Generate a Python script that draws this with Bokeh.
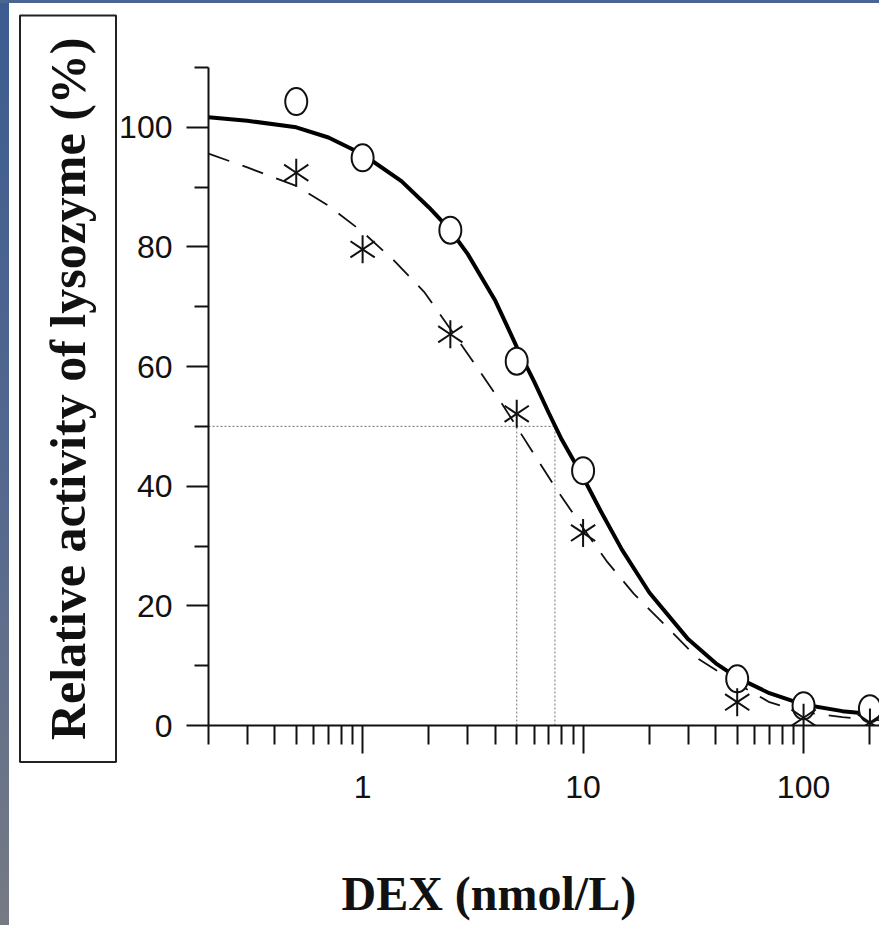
import math
from bokeh.plotting import figure
from bokeh.models import Range1d, FixedTicker, Title, Div
from bokeh.layouts import row, column
from bokeh.embed import file_html
from bokeh.resources import INLINE

# ---- data ----
dose = [0.5, 1, 2.5, 5, 10, 50, 100, 200]
control = [104.3, 94.9, 82.8, 60.9, 42.6, 7.8, 3.3, 2.8]
treated = [92.4, 79.6, 65.4, 52.1, 32.2, 3.9, 1.3, 0.5]

fit_control_x = [0.2, 0.3, 0.5, 0.7, 1, 1.5, 2, 2.5, 3, 4, 5, 6, 7, 8, 10, 12, 15, 20, 30, 40, 50, 70, 100, 150, 221]
fit_control_y = [101.7, 101.1, 100.0, 98.3, 95.5, 91.0, 86.6, 82.8, 78.8, 71.0, 63.3, 57.5, 52.2, 47.8, 41.5, 35.9, 29.4, 22.2, 14.4, 10.4, 8.0, 5.4, 3.5, 2.4, 1.8]

fit_treated_x = [0.2, 0.3, 0.5, 0.7, 1, 1.4, 1.9, 2.5, 3.4, 4.3, 5, 5.75, 7.45, 10, 12.9, 17, 25, 33.4, 50, 70, 100, 150, 221]
fit_treated_y = [95.6, 93.3, 90.2, 86.9, 82.5, 77.6, 72.5, 66.3, 59.2, 53.7, 49.9, 46.4, 39.9, 33.0, 27.3, 22.0, 15.8, 11.1, 7.0, 3.9, 2.2, 1.4, 0.9]

half_level = 50
ic50_control = 7.45
ic50_treated = 5.0

x_major = [1, 10, 100]
x_labels = ["1", "10", "100"]
y_major = [0, 20, 40, 60, 80, 100]

X_TITLE = "DEX (nmol/L)"
Y_TITLE = "Relative activity of lysozyme (%)"

# ---- figure ----
p = figure(width=870, height=922, x_axis_type="log",
           x_range=Range1d(0.2, 221), y_range=Range1d(0, 110),
           output_backend="svg", toolbar_location=None,
           min_border_left=199, min_border_top=64, min_border_right=0,
           min_border_bottom=200)
p.outline_line_color = None
p.xgrid.visible = False
p.ygrid.visible = False
p.background_fill_color = "white"
p.border_fill_color = "white"

minor_x = [m * 10 ** k for k in (-1, 0, 1, 2) for m in range(2, 10)]
p.xaxis.ticker = FixedTicker(ticks=x_major, minor_ticks=minor_x)
p.xaxis.major_label_overrides = {t: s for t, s in zip(x_major, x_labels)}
p.yaxis.ticker = FixedTicker(ticks=y_major, minor_ticks=[v + 10 for v in y_major])

tick_font = "'Liberation Sans Narrow', 'Liberation Sans', sans-serif"
for ax in (p.xaxis, p.yaxis):
    ax.axis_line_width = 2
    ax.axis_line_color = "#111111"
    ax.major_tick_line_width = 2
    ax.minor_tick_line_width = 2
    ax.major_tick_line_color = "#111111"
    ax.minor_tick_line_color = "#111111"
    ax.major_tick_in = 0
    ax.minor_tick_in = 0
    ax.major_label_text_font = tick_font
    ax.major_label_text_font_size = "32px"
    ax.major_label_text_color = "#111111"

p.xaxis.major_tick_out = 28
p.xaxis.minor_tick_out = 19
p.xaxis.major_label_standoff = 22
p.yaxis.major_tick_out = 22
p.yaxis.minor_tick_out = 14
p.yaxis.major_label_standoff = 14

# reference dotted lines at 50 %
p.line([fit_control_x[0], ic50_control], [half_level, half_level], line_color="#8a8a8a",
       line_width=1.2, line_dash="2 2")
p.line([ic50_control, ic50_control], [0, half_level], line_color="#8a8a8a",
       line_width=1.2, line_dash="2 2")
p.line([ic50_treated, ic50_treated], [0, half_level], line_color="#8a8a8a",
       line_width=1.2, line_dash="2 2")

# fitted curves
p.line(fit_control_x, fit_control_y, line_color="#000000", line_width=4)
p.line(fit_treated_x, fit_treated_y, line_color="#111111", line_width=1.8, line_dash="22 14")

# markers
p.ellipse(x=dose, y=control, width=22, height=27, width_units="screen", height_units="screen",
          fill_color="white", line_color="#111111", line_width=2)
p.scatter(x=dose, y=treated, marker="y", size=28, angle=0, line_color="#111111", line_width=2)
p.scatter(x=dose, y=treated, marker="y", size=28, angle=math.pi, line_color="#111111", line_width=2)

# titles
p.add_layout(Title(text=X_TITLE, align="left", offset=133, standoff=0, vertical_align="top",
                   text_font="Liberation Serif", text_font_style="bold", text_font_size="48px",
                   text_color="#111111",
                   padding=dict(left=0, right=0, top=66, bottom=0)), "below")
p.add_layout(Title(text=Y_TITLE, align="right", offset=-52, standoff=1,
                   text_font="Liberation Serif", text_font_style="bold", text_font_size="50px",
                   text_color="#111111", border_line_color="#222222", border_line_width=2,
                   padding=(22, 20)), "left")

# slide-frame strips of the original picture
top_strip = Div(width=879, height=3, margin=0,
                styles={"background": "#4a6591"})
left_strip = Div(width=9, height=922, margin=0,
                 styles={"background": "linear-gradient(to bottom, #3c5c8f, #56698e 55%, #767a84)"})

layout = column(top_strip, row(left_strip, p, spacing=0), spacing=0)

open("out.html", "w").write(file_html(layout, INLINE))
